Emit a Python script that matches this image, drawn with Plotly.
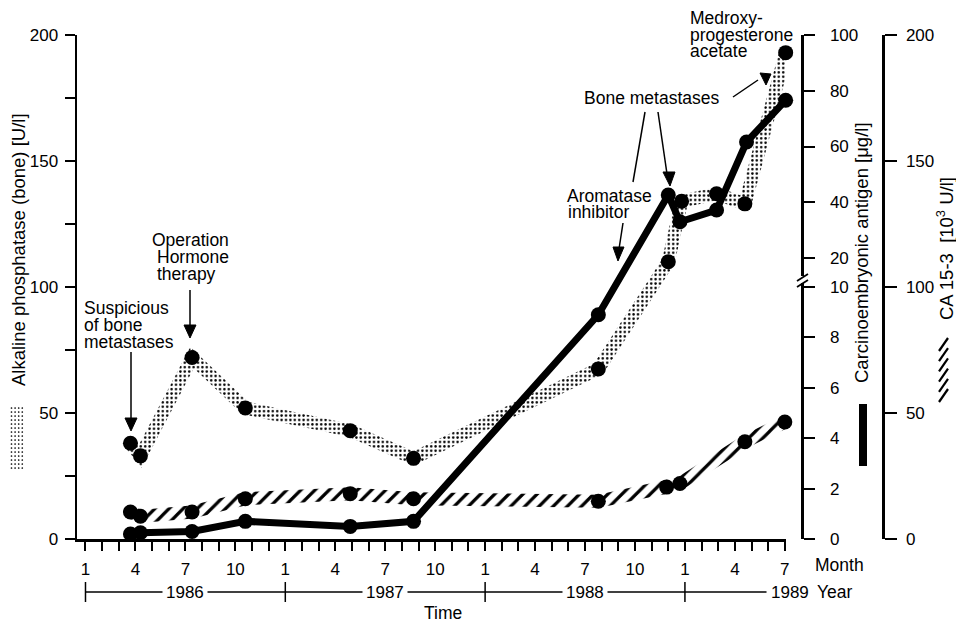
import numpy as np
import plotly.graph_objects as go

# ---------------- data ----------------
# x = months after January 1986 (0 = Jan 1986)
months_alp = [2.7, 3.3, 6.4, 9.6, 15.9, 19.7, 30.8, 35.0, 35.8, 37.9, 39.6, 42.05]
alp_bone = [38, 33, 72, 52, 43, 32, 67.5, 110, 134, 137, 133, 193]          # U/l

months_cea = [2.7, 3.3, 6.4, 9.6, 15.9, 19.7, 30.8, 35.0, 35.7, 37.9, 39.7, 42.05]
cea = [0.2, 0.25, 0.3, 0.7, 0.5, 0.7, 8.9, 42.6, 33.0, 37.2, 61.6, 76.6]      # ug/l

months_ca = [2.7, 3.3, 6.4, 9.6, 15.9, 19.7, 30.8, 34.9, 35.7, 39.6, 42.0]
ca153 = [10.7, 9.0, 10.7, 16.0, 18.0, 16.0, 15.0, 20.6, 22.0, 38.6, 46.4]    # 10^3 U/l

month_label_vals = list(range(0, 43, 3))
month_names = {0: "1", 3: "4", 6: "7", 9: "10"}
year_labels = ["1986", "1987", "1988", "1989"]
left_ticks = [0, 50, 100, 150, 200]
cea_ticks = [0, 2, 4, 6, 8, 10, 20, 40, 60, 80, 100]
ca_ticks = [0, 50, 100, 150, 200]

# ---------------- frame ----------------
W, H = 956, 623
PX0, PX1 = 77, 786          # plot area (px)
PY_TOP, PY_BOT = 35, 539
X_RANGE = [-0.51, 42.07]
Y_RANGE = [0, 200]
FONT = "Liberation Sans"


def px(x):
    return x / W


def py(y):
    return 1 - y / H


def cea_axis(v):
    """broken CEA scale: 0-10 linear in lower part, 20-100 compressed upper part"""
    v = np.asarray(v, dtype=float)
    lower = v * 10.0
    mid = 100 + (v - 10) * 1.15
    upper = 111.5 + (v - 20) * 88.5 / 80.0
    return np.where(v <= 10, lower, np.where(v < 20, mid, upper))


kx = (PX1 - PX0) / (X_RANGE[1] - X_RANGE[0])
ky = (PY_BOT - PY_TOP) / (Y_RANGE[1] - Y_RANGE[0])


def band(xs, ys, half):
    P = np.column_stack([np.asarray(xs, float) * kx, np.asarray(ys, float) * ky])
    n = len(P)
    dirs = []
    for i in range(n - 1):
        d = P[i + 1] - P[i]
        dirs.append(d / np.linalg.norm(d))
    perp = lambda d: np.array([-d[1], d[0]])
    N = []
    for i in range(n):
        if i == 0:
            nv = perp(dirs[0])
        elif i == n - 1:
            nv = perp(dirs[-1])
        else:
            n1, n2 = perp(dirs[i - 1]), perp(dirs[i])
            m = n1 + n2
            if np.linalg.norm(m) < 1e-6:
                m = n1
            m = m / np.linalg.norm(m)
            nv = m / max(np.dot(m, n1), 0.45)
        N.append(nv)
    N = np.array(N)
    up = P + half * N
    lo = P - half * N
    poly = np.vstack([up, lo[::-1], up[:1]])
    return poly[:, 0] / kx, poly[:, 1] / ky


fig = go.Figure()

# stippled band: alkaline phosphatase
bx, by = band(months_alp, alp_bone, 6.5)
fig.add_trace(go.Scatter(x=bx, y=by, mode="lines", fill="toself", line=dict(width=0),
                         fillcolor="rgba(0,0,0,0)",
                         fillpattern=dict(shape=".", size=4.4, solidity=0.24, fgcolor="black",
                                          bgcolor="rgba(0,0,0,0)", fillmode="replace"),
                         hoverinfo="skip", xaxis="x", yaxis="y"))
# hatched band: CA 15-3
hx, hy = band(months_ca, ca153, 6.5)
fig.add_trace(go.Scatter(x=hx, y=hy, mode="lines", fill="toself", line=dict(width=0),
                         fillcolor="rgba(0,0,0,0)",
                         fillpattern=dict(shape="/", size=10, solidity=0.32, fgcolor="black",
                                          bgcolor="rgba(0,0,0,0)", fillmode="replace"),
                         hoverinfo="skip", xaxis="x", yaxis="y3"))
# solid line: CEA
fig.add_trace(go.Scatter(x=months_cea, y=cea_axis(cea), mode="lines",
                         line=dict(color="black", width=7), xaxis="x", yaxis="y2",
                         cliponaxis=False))
# markers
mk = dict(color="black", size=15)
fig.add_trace(go.Scatter(x=months_alp, y=alp_bone, mode="markers", marker=mk,
                         xaxis="x", yaxis="y", cliponaxis=False))
fig.add_trace(go.Scatter(x=months_ca, y=ca153, mode="markers", marker=mk,
                         xaxis="x", yaxis="y3", cliponaxis=False))
fig.add_trace(go.Scatter(x=months_cea, y=cea_axis(cea), mode="markers", marker=mk,
                         xaxis="x", yaxis="y2", cliponaxis=False))

axis_common = dict(showline=True, linecolor="black", linewidth=2.5, ticks="outside",
                   tickcolor="black", tickwidth=2, showgrid=False, zeroline=False,
                   automargin=False,
                   tickfont=dict(family=FONT, size=17, color="black"), fixedrange=True)
ydom = [1 - PY_BOT / H, 1 - PY_TOP / H]

fig.update_layout(
    template="none",
    width=W, height=H, autosize=False, margin=dict(l=0, r=0, t=0, b=0, pad=0),
    paper_bgcolor="white", plot_bgcolor="white", showlegend=False,
    xaxis=dict(domain=[px(PX0), px(PX1)], range=X_RANGE, anchor="y",
               tickmode="array", tickvals=month_label_vals,
               ticktext=[month_names[m % 12] for m in month_label_vals],
               ticklen=9, ticklabelstandoff=4,
               minor=dict(tickmode="linear", tick0=0, dtick=1, ticks="outside", ticklen=9,
                          tickwidth=2, tickcolor="black", showgrid=False),
               **axis_common),
    yaxis=dict(domain=ydom, range=Y_RANGE, anchor="x", tickmode="array", tickvals=left_ticks,
               ticklen=10, ticklabelstandoff=3,
               minor=dict(tickmode="linear", tick0=0, dtick=25, ticks="outside", ticklen=10,
                          tickwidth=2, tickcolor="black", showgrid=False),
               **axis_common),
    yaxis2=dict(overlaying="y", anchor="free", position=px(802), side="right", range=Y_RANGE,
                tickmode="array", tickvals=list(cea_axis(cea_ticks)),
                ticktext=[str(t) for t in cea_ticks], ticklen=11, ticklabelstandoff=12,
                **axis_common),
    yaxis3=dict(overlaying="y", anchor="free", position=px(883), side="right", range=Y_RANGE,
                tickmode="array", tickvals=ca_ticks, ticklen=12, ticklabelstandoff=6,
                **axis_common),
)

ann = []
shapes = []


def text(s, x, y, xanchor="left", size=17.5, angle=0, xref="paper", bg=None):
    d = dict(text=s, x=x if xref != "paper" else px(x), y=py(y), xref=xref, yref="paper",
             xanchor=xanchor, yanchor="middle", showarrow=False, textangle=angle,
             font=dict(family=FONT, size=size, color="black"))
    if bg:
        d.update(bgcolor=bg, borderpad=3)
    ann.append(d)


def seg(x0, y0, x1, y1, w=1.5, xref="paper"):
    shapes.append(dict(type="line", xref=xref, yref="paper",
                       x0=x0 if xref != "paper" else px(x0), x1=x1 if xref != "paper" else px(x1),
                       y0=py(y0), y1=py(y1), line=dict(color="black", width=w)))


def tri(pts):
    path = "M " + " L ".join(f"{px(a):.5f},{py(b):.5f}" for a, b in pts) + " Z"
    shapes.append(dict(type="path", xref="paper", yref="paper", path=path,
                       fillcolor="black", line=dict(color="black", width=1)))


# event annotations
text("Suspicious", 82, 308)
text("of bone", 82, 325)
text("metastases", 82, 342)
seg(131, 352, 131, 420)
tri([(125, 418), (137, 418), (131, 431)])

text("Operation", 150, 240)
text("Hormone", 155, 257)
text("therapy", 155, 274)
seg(190, 290, 190, 327)
tri([(184, 325), (196, 325), (190, 338)])

text("Bone metastases", 582, 98)
seg(645, 112, 633, 182)
seg(658, 112, 667, 174)
tri([(663, 172), (675, 172), (670, 186)])

text("Aromatase", 654, 196, xanchor="right")
text("inhibitor", 631, 212, xanchor="right")
seg(623, 223, 619, 249)
tri([(613, 247), (624, 247), (618, 261)])

text("Medroxy-", 688, 18)
text("progesterone", 688, 35)
text("acetate", 688, 51)
seg(733, 97, 758, 80)
tri([(760, 73), (771, 74), (766, 85)])

# axis titles
text("Alkaline phosphatase (bone) [U/l]", 18, 250, xanchor="center", size=18.5, angle=-90)
text("Carcinoembryonic antigen [\u03bcg/l]", 862, 253, xanchor="center", size=18.5, angle=-90)
text("CA 15-3 \u00a0[10<sup>3</sup> U/l]", 945, 249, xanchor="center", size=18.5, angle=-90)

# legend swatches
for c in range(4):
    for r in range(16):
        cx = 11.5 + c * 3.6
        cy = 408 + r * 4.0
        shapes.append(dict(type="circle", xref="paper", yref="paper",
                           x0=px(cx - 0.85), x1=px(cx + 0.85), y0=py(cy + 0.85), y1=py(cy - 0.85),
                           fillcolor="black", line=dict(width=0)))
shapes.append(dict(type="rect", xref="paper", yref="paper", x0=px(859), x1=px(867),
                   y0=py(466), y1=py(404), fillcolor="black", line=dict(width=0)))
for i in range(6):
    yb = 351 + i * 10.2
    seg(939, yb, 948, yb - 13, w=2.2)

# CEA axis break
shapes.append(dict(type="rect", xref="paper", yref="paper", x0=px(799), x1=px(805),
                   y0=py(283), y1=py(276), fillcolor="white", line=dict(width=0)))
seg(797, 281, 808, 274, w=1.8)
seg(797, 287, 808, 280, w=1.8)

# month / year rows
text("Month", 813, 565)
seg(0, 592, 40.9, 592, w=1.5, xref="x")
for k in range(4):
    seg(12 * k, 582, 12 * k, 602, w=1.5, xref="x")
for k in range(3):
    text(year_labels[k], 6 + 12 * k, 592, xanchor="center", size=17, xref="x", bg="white")
text(year_labels[3], 769, 592, size=17)
text("Year", 815, 592)
text("Time", 443, 613, xanchor="center")

fig.update_layout(annotations=ann, shapes=shapes)
fig.write_html("out.html", config={"displayModeBar": False, "staticPlot": True},
               post_script="document.body.style.margin='0';")
